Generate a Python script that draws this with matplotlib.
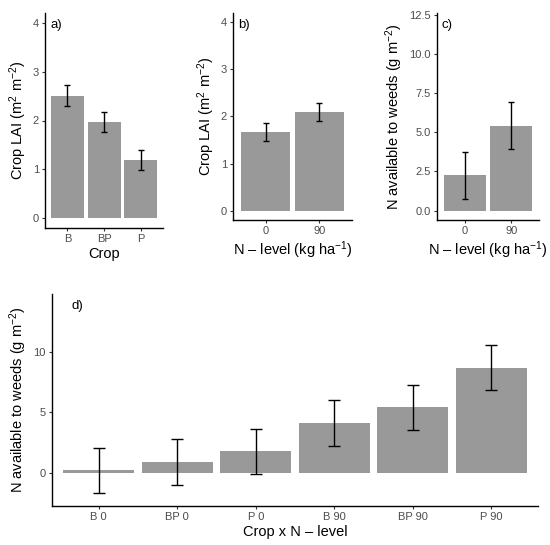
import matplotlib
matplotlib.use("Agg")
import matplotlib.pyplot as plt

plt.rcParams['font.family'] = ['Liberation Sans', 'DejaVu Sans']
plt.rcParams['mathtext.fontset'] = 'custom'
plt.rcParams['mathtext.rm'] = 'Liberation Sans'
plt.rcParams['mathtext.it'] = 'Liberation Sans:italic'
plt.rcParams['mathtext.default'] = 'regular'

# Panel a: crop LAI by crop
crop_cats = ["B", "BP", "P"]
crop_lai = [2.51, 1.97, 1.19]
crop_lai_se = [0.21, 0.20, 0.20]

# Panel b: crop LAI by N-level
n_cats = ["0", "90"]
n_lai = [1.67, 2.10]
n_lai_se = [0.19, 0.19]

# Panel c: N available to weeds by N-level
n_weeds = [2.25, 5.42]
n_weeds_se = [1.50, 1.50]

# Panel d: N available to weeds by crop x N-level
cx_cats = ["B 0", "BP 0", "P 0", "B 90", "BP 90", "P 90"]
cx_weeds = [0.20, 0.88, 1.77, 4.14, 5.42, 8.70]
cx_weeds_se = [1.88, 1.88, 1.88, 1.90, 1.88, 1.88]

W, H = 550, 545
fig = plt.figure(figsize=(W / 100, H / 100), dpi=100)

BAR = "#999999"
TICKC = "#4D4D4D"


def add_ax(l, r, t, b):
    return fig.add_axes([l / W, 1 - b / H, (r - l) / W, (b - t) / H])


def style(ax):
    for s in ["top", "right"]:
        ax.spines[s].set_visible(False)
    for s in ["left", "bottom"]:
        ax.spines[s].set_linewidth(1.0)
        ax.spines[s].set_color("black")
    ax.tick_params(axis="both", colors="#333333", labelcolor=TICKC,
                   labelsize=8, length=2.5, width=0.8, pad=2)


def panel(ax, cats, vals, se, ylim, yticks, ylabel, xlabel, tag, cap, ylpad=3):
    x = list(range(1, len(cats) + 1))
    ax.bar(x, vals, width=0.9, color=BAR, zorder=1)
    ax.errorbar(x, vals, yerr=se, fmt="none", ecolor="black",
                elinewidth=1.0, capsize=cap, capthick=1.0, zorder=2)
    ax.set_xlim(0.4, len(cats) + 0.6)
    ax.set_ylim(*ylim)
    ax.set_xticks(x)
    ax.set_xticklabels(cats)
    ax.set_yticks(yticks)
    ax.set_ylabel(ylabel, fontsize=10.5, color="black", labelpad=ylpad)
    ax.set_xlabel(xlabel, fontsize=10.5, color="black", labelpad=2)
    ax.text(0.04, 0.97, tag, transform=ax.transAxes, fontsize=9.5,
            ha="left", va="top", color="black")
    style(ax)


ax_a = add_ax(45.3, 163, 13, 228)
panel(ax_a, crop_cats, crop_lai, crop_lai_se, (-0.2, 4.2), [0, 1, 2, 3, 4],
      "Crop LAI (m$^{2}$ m$^{-2}$)", "Crop", "a)", 2)

ax_b = add_ax(233.3, 351.7, 13, 220)
panel(ax_b, n_cats, n_lai, n_lai_se, (-0.2, 4.2), [0, 1, 2, 3, 4],
      "Crop LAI (m$^{2}$ m$^{-2}$)", "N – level (kg ha$^{-1}$)", "b)", 2.5)

ax_c = add_ax(437.3, 539, 13, 220)
panel(ax_c, n_cats, n_weeds, n_weeds_se, (-0.6, 12.6),
      [0, 2.5, 5, 7.5, 10, 12.5],
      "N available to weeds (g m$^{-2}$)", "N – level (kg ha$^{-1}$)", "c)", 2.5)
ax_c.set_yticklabels(["0.0", "2.5", "5.0", "7.5", "10.0", "12.5"])

ax_d = add_ax(51.7, 538.3, 294, 506)
panel(ax_d, cx_cats, cx_weeds, cx_weeds_se, (-2.76, 14.8), [0, 5, 10],
      "N available to weeds (g m$^{-2}$)", "Crop x N – level", "d)", 4.5)

fig.savefig("out.png", dpi=100)
